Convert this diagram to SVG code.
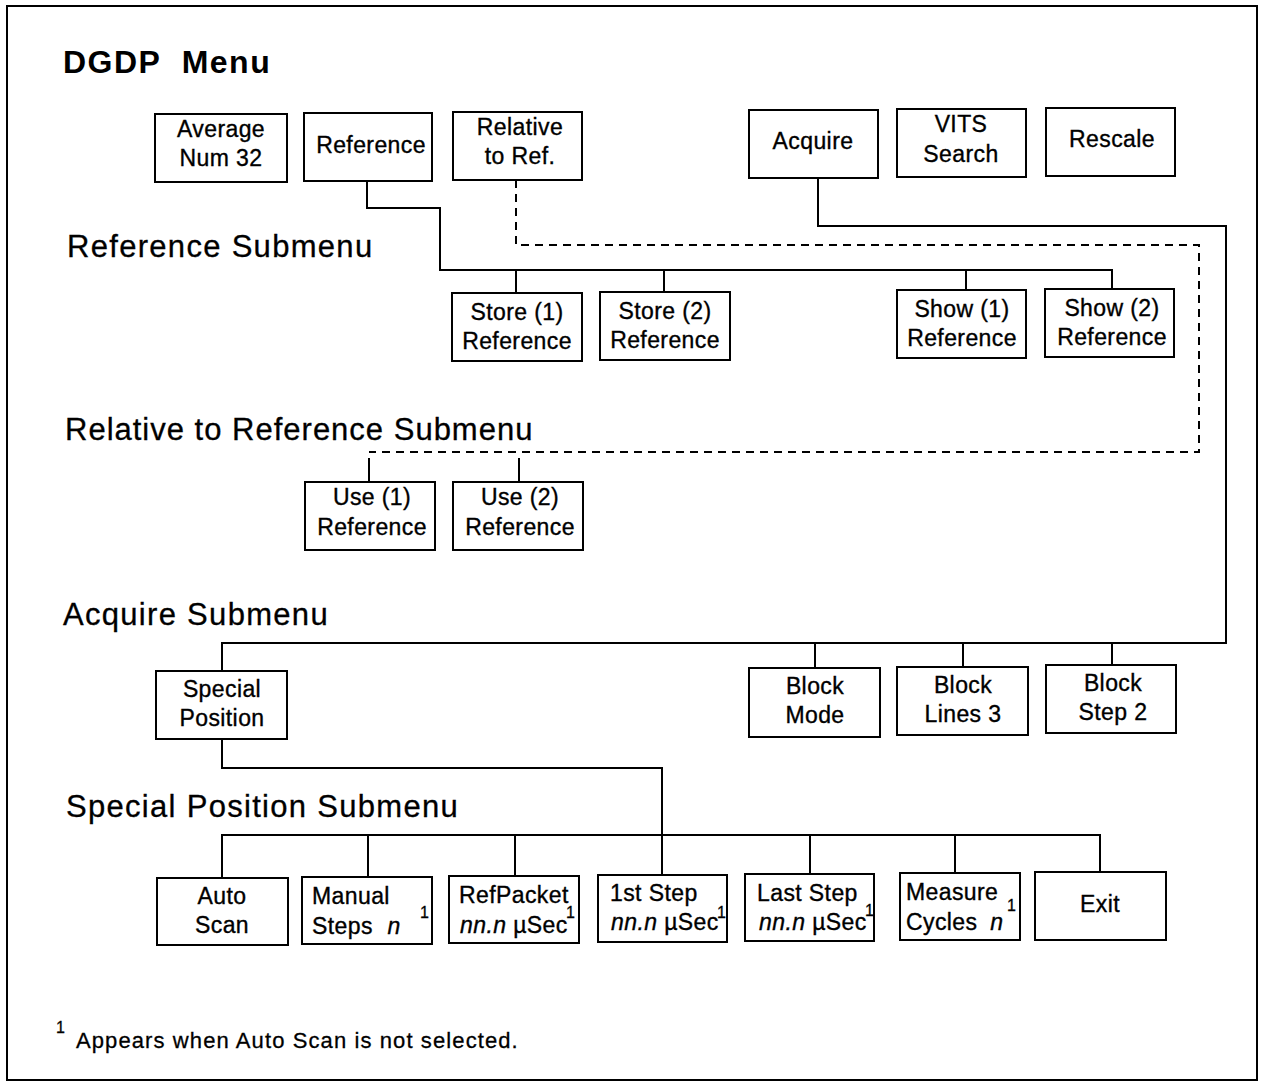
<svg xmlns="http://www.w3.org/2000/svg" width="1264" height="1086" viewBox="0 0 1264 1086">
  <style>
    .box { fill: #fff; stroke: #000; stroke-width: 2; }
    .wire { fill: none; stroke: #000; stroke-width: 2; }
    .dash { fill: none; stroke: #000; stroke-width: 2; stroke-dasharray: 8 6; }
    .t { font-family: "Liberation Sans", Arial, sans-serif; font-size: 23px; letter-spacing: 0.4px; fill: #000; stroke: #000; stroke-width: 0.35px; }
    .c { text-anchor: middle; }
    .i { font-style: italic; }
    .sup { font-family: "Liberation Sans", Arial, sans-serif; font-size: 16px; fill: #000; stroke: #000; stroke-width: 0.3px; }
    .head { font-family: "Liberation Sans", Arial, sans-serif; font-size: 31px; letter-spacing: 1.3px; fill: #000; stroke: #000; stroke-width: 0.3px; }
    .title { font-family: "Liberation Sans", Arial, sans-serif; font-size: 32px; font-weight: bold; letter-spacing: 1.5px; fill: #000; }
    .note { font-family: "Liberation Sans", Arial, sans-serif; font-size: 22px; letter-spacing: 1.1px; fill: #000; stroke: #000; stroke-width: 0.3px; }
  </style>

  <rect x="0" y="0" width="1264" height="1086" fill="#fff"/>
  <!-- page frame -->
  <rect x="7" y="6" width="1250" height="1074" fill="none" stroke="#000" stroke-width="2"/>

  <!-- headings -->
  <text class="title" x="63" y="73" xml:space="preserve">DGDP  Menu</text>
  <text class="head" x="67" y="257">Reference Submenu</text>
  <text class="head" x="65" y="440" style="letter-spacing:1px">Relative to Reference Submenu</text>
  <text class="head" x="63" y="625">Acquire Submenu</text>
  <text class="head" x="66" y="817">Special Position Submenu</text>

  <!-- connectors -->
  <g id="connectors">
    <!-- Reference -> Reference Submenu -->
    <path class="wire" d="M367 181 V208 H440 V270 H1112 V289"/>
    <path class="wire" d="M516 270 V293 M664 270 V292 M966 270 V290"/>
    <!-- Relative to Ref. -> Relative to Reference Submenu (dashed) -->
    <path class="dash" d="M516 180 V245 H1199 V452 H369"/>
    <path class="wire" d="M369 458 V482 M519 458 V482"/>
    <!-- Acquire -> Acquire Submenu -->
    <path class="wire" d="M818 178 V226 H1226 V643 H222 V671"/>
    <path class="wire" d="M815 643 V668 M963 643 V667 M1112 643 V665"/>
    <!-- Special Position -> Special Position Submenu -->
    <path class="wire" d="M222 739 V768 H662 V835"/>
    <path class="wire" d="M222 878 V835 H1100 V872"/>
    <path class="wire" d="M368 835 V877 M515 835 V876 M662 835 V875 M810 835 V874 M955 835 V873"/>
  </g>

  <!-- main menu -->
  <g id="average">
    <rect class="box" x="155" y="114" width="132" height="68"/>
    <text class="t c" x="221" y="137">Average</text>
    <text class="t c" x="221" y="166">Num 32</text>
  </g>
  <g id="reference">
    <rect class="box" x="304" y="113" width="128" height="68"/>
    <text class="t c" x="371" y="153">Reference</text>
  </g>
  <g id="relative">
    <rect class="box" x="453" y="112" width="129" height="68"/>
    <text class="t c" x="520" y="135">Relative</text>
    <text class="t c" x="520" y="164">to Ref.</text>
  </g>
  <g id="acquire">
    <rect class="box" x="749" y="110" width="129" height="68"/>
    <text class="t c" x="813" y="149">Acquire</text>
  </g>
  <g id="vits">
    <rect class="box" x="897" y="109" width="129" height="68"/>
    <text class="t c" x="961" y="132">VITS</text>
    <text class="t c" x="961" y="162">Search</text>
  </g>
  <g id="rescale">
    <rect class="box" x="1046" y="108" width="129" height="68"/>
    <text class="t c" x="1112" y="147">Rescale</text>
  </g>

  <!-- reference submenu -->
  <g id="store1">
    <rect class="box" x="452" y="293" width="130" height="68"/>
    <text class="t c" x="517" y="320">Store (1)</text>
    <text class="t c" x="517" y="349">Reference</text>
  </g>
  <g id="store2">
    <rect class="box" x="600" y="292" width="130" height="68"/>
    <text class="t c" x="665" y="319">Store (2)</text>
    <text class="t c" x="665" y="348">Reference</text>
  </g>
  <g id="show1">
    <rect class="box" x="897" y="290" width="129" height="68"/>
    <text class="t c" x="962" y="317">Show (1)</text>
    <text class="t c" x="962" y="346">Reference</text>
  </g>
  <g id="show2">
    <rect class="box" x="1045" y="289" width="129" height="68"/>
    <text class="t c" x="1112" y="316">Show (2)</text>
    <text class="t c" x="1112" y="345">Reference</text>
  </g>

  <!-- relative to reference submenu -->
  <g id="use1">
    <rect class="box" x="305" y="482" width="130" height="68"/>
    <text class="t c" x="372" y="505">Use (1)</text>
    <text class="t c" x="372" y="535">Reference</text>
  </g>
  <g id="use2">
    <rect class="box" x="453" y="482" width="130" height="68"/>
    <text class="t c" x="520" y="505">Use (2)</text>
    <text class="t c" x="520" y="535">Reference</text>
  </g>

  <!-- acquire submenu -->
  <g id="special">
    <rect class="box" x="156" y="671" width="131" height="68"/>
    <text class="t c" x="222" y="697">Special</text>
    <text class="t c" x="222" y="726">Position</text>
  </g>
  <g id="blockmode">
    <rect class="box" x="749" y="668" width="131" height="69"/>
    <text class="t c" x="815" y="694">Block</text>
    <text class="t c" x="815" y="723">Mode</text>
  </g>
  <g id="blocklines">
    <rect class="box" x="897" y="667" width="131" height="68"/>
    <text class="t c" x="963" y="693">Block</text>
    <text class="t c" x="963" y="722">Lines 3</text>
  </g>
  <g id="blockstep">
    <rect class="box" x="1046" y="665" width="130" height="68"/>
    <text class="t c" x="1113" y="691">Block</text>
    <text class="t c" x="1113" y="720">Step 2</text>
  </g>

  <!-- special position submenu -->
  <g id="autoscan">
    <rect class="box" x="157" y="878" width="131" height="67"/>
    <text class="t c" x="222" y="904">Auto</text>
    <text class="t c" x="222" y="933">Scan</text>
  </g>
  <g id="manual">
    <rect class="box" x="302" y="877" width="130" height="67"/>
    <text class="t" x="312" y="904">Manual</text>
    <text class="t" x="312" y="934">Steps <tspan class="i" dx="8">n</tspan></text>
    <text class="sup" x="420" y="918">1</text>
  </g>
  <g id="refpacket">
    <rect class="box" x="449" y="876" width="130" height="67"/>
    <text class="t" x="459" y="903">RefPacket</text>
    <text class="t" x="460" y="933"><tspan class="i">nn.n</tspan> µSec</text>
    <text class="sup" x="566" y="918">1</text>
  </g>
  <g id="firststep">
    <rect class="box" x="598" y="875" width="129" height="67"/>
    <text class="t" x="610" y="901">1st Step</text>
    <text class="t" x="611" y="930"><tspan class="i">nn.n</tspan> µSec</text>
    <text class="sup" x="717" y="918">1</text>
  </g>
  <g id="laststep">
    <rect class="box" x="745" y="874" width="129" height="67"/>
    <text class="t" x="757" y="901">Last Step</text>
    <text class="t" x="759" y="930"><tspan class="i">nn.n</tspan> µSec</text>
    <text class="sup" x="865" y="916">1</text>
  </g>
  <g id="measure">
    <rect class="box" x="900" y="873" width="120" height="67"/>
    <text class="t" x="906" y="900">Measure</text>
    <text class="t" x="906" y="930">Cycles <tspan class="i" dx="6">n</tspan></text>
    <text class="sup" x="1007" y="911">1</text>
  </g>
  <g id="exit">
    <rect class="box" x="1035" y="872" width="131" height="68"/>
    <text class="t c" x="1100" y="912">Exit</text>
  </g>

  <!-- footnote -->
  <text class="sup" x="56" y="1033">1</text>
  <text class="note" x="76" y="1048">Appears when Auto Scan is not selected.</text>
</svg>
